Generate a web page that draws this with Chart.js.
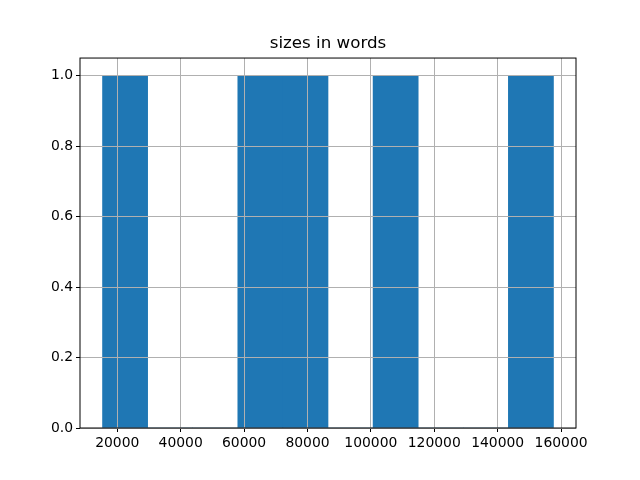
<!DOCTYPE html>
<html>
<head>
<meta charset="utf-8">
<script src="https://cdn.jsdelivr.net/npm/chart.js@4"></script>
<style>
  html, body { margin: 0; padding: 0; background: #fff; }
  #wrap { width: 640px; height: 480px; }
</style>
</head>
<body>
<div id="wrap"><canvas id="chart" width="640" height="480"></canvas></div>
<script>
// histogram of document sizes (10 bins)
const binCenters = [22463, 36688, 50913, 65138, 79363, 93588, 107813, 122038, 136263, 150488];
const binCounts = [1, 0, 0, 1, 1, 0, 1, 0, 0, 1];
const xTicks = [20000, 40000, 60000, 80000, 100000, 120000, 140000, 160000];
const yTicks = [0, 0.2, 0.4, 0.6, 0.8, 1.0];
const titleText = 'sizes in words';

Chart.defaults.font.family = "'DejaVu Sans', sans-serif";
Chart.defaults.color = '#000';

const frame = {
    id: 'frame',
    afterDraw(chart) {
        const { ctx, chartArea: a } = chart;
        ctx.save();
        ctx.strokeStyle = '#000';
        ctx.lineWidth = 1;
        ctx.strokeRect(a.left, a.top, a.right - a.left, a.bottom - a.top);
        ctx.restore();
    }
};

const gridStyle = {
    z: 1,
    color: '#b0b0b0',
    lineWidth: 1,
    tickColor: '#000',
    tickLength: 4,
    tickWidth: 1,
    offset: false
};

new Chart(document.getElementById('chart').getContext('2d'), {
    type: 'bar',
    data: {
        datasets: [{
            data: binCenters.map((x, i) => ({ x: x, y: binCounts[i] })),
            backgroundColor: '#1f77b4',
            borderWidth: 0,
            barPercentage: 1,
            categoryPercentage: 1
        }]
    },
    options: {
        responsive: false,
        animation: false,
        layout: { padding: { top: 34, right: 64, left: 0, bottom: 0 } },
        plugins: {
            legend: { display: false },
            tooltip: { enabled: false },
            title: {
                display: true,
                text: titleText,
                fullSize: false,
                color: '#000',
                font: { size: 16.7, weight: 'normal' },
                padding: { top: 0, bottom: 4 }
            }
        },
        scales: {
            x: {
                type: 'linear',
                min: 8240,
                max: 164710,
                offset: false,
                z: 1,
                border: { display: false },
                grid: gridStyle,
                afterBuildTicks: s => { s.ticks = xTicks.map(v => ({ value: v })); },
                afterFit: s => { s.height = 52; },
                ticks: {
                    maxRotation: 0,
                    autoSkip: false,
                    padding: 3,
                    font: { size: 13.9 },
                    callback: v => String(v)
                }
            },
            y: {
                min: 0,
                max: 1.05,
                z: 1,
                border: { display: false },
                grid: gridStyle,
                afterBuildTicks: s => { s.ticks = yTicks.map(v => ({ value: v })); },
                afterFit: s => { s.width = 80; },
                ticks: {
                    autoSkip: false,
                    padding: 3,
                    font: { size: 13.9 },
                    callback: v => v.toFixed(1)
                }
            }
        }
    },
    plugins: [frame]
});
</script>
</body>
</html>
